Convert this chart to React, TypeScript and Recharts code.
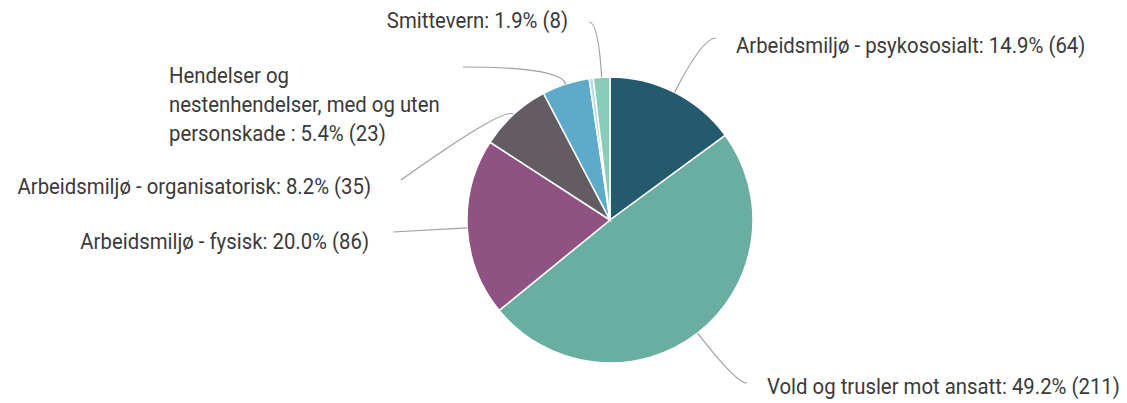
import { PieChart, Pie, Cell } from "recharts";

const categories = [
  "Arbeidsmiljø - psykososialt",
  "Vold og trusler mot ansatt",
  "Arbeidsmiljø - fysisk",
  "Arbeidsmiljø - organisatorisk",
  "Hendelser og nestenhendelser, med og uten personskade ",
  "",
  "Smittevern",
];
const counts = [64, 211, 86, 35, 23, 2, 8];
const colors = ["#245a6e", "#6aaea1", "#8f5282", "#635d63", "#5eaacb", "#b6dce9", "#8acbb9"];

// label placement relative to the pie centre (text x/y, anchor, connector end)
const labelLayout = [
  { tx: 126, ty: -175, anchor: "start", lx: 106, ly: -182 },
  { tx: 157, ty: 166, anchor: "start", lx: 137, ly: 163 },
  { tx: -241, ty: 21, anchor: "end", lx: -217, ly: 12 },
  { tx: -239, ty: -34, anchor: "end", lx: -209, ly: -40 },
  { tx: -441, ty: -145, anchor: "start", lx: -147, ly: -153, wrap: 28 },
  null,
  { tx: -42, ty: -200, anchor: "end", lx: -21, ly: -198 },
];

const data = categories.map((name, i) => ({ name, value: counts[i] }));

const RAD = Math.PI / 180;
const FONT = "Roboto, 'Noto Sans', sans-serif";

function wrapText(text: string, max: number) {
  const words = text.split(" ");
  const lines: string[] = [];
  let cur = "";
  for (const w of words) {
    const next = cur ? cur + " " + w : w;
    if (next.length > max && cur) {
      lines.push(cur);
      cur = w;
    } else cur = next;
  }
  if (cur) lines.push(cur);
  return lines;
}

function renderLabel(props: any) {
  const { cx, cy, midAngle, outerRadius, index, percent, value, name } = props;
  const lay = labelLayout[index];
  if (!lay) return null;
  const cos = Math.cos(-midAngle * RAD);
  const sin = Math.sin(-midAngle * RAD);
  const x0 = cx + outerRadius * cos;
  const y0 = cy + outerRadius * sin;
  const ex = cx + lay.lx;
  const ey = cy + lay.ly;
  // control point: follow the slice direction until reaching the end height
  let t = 12;
  if (sin !== 0) {
    const tt = (ey - y0) / sin;
    if (tt > 0 && tt < 70) t = tt;
  }
  const qx = x0 + t * cos;
  const qy = y0 + t * sin;
  const text = `${name}: ${(percent * 100).toFixed(1)}% (${value})`;
  const lines = lay.wrap ? wrapText(text, lay.wrap) : [text];
  return (
    <g>
      <path
        d={`M${x0},${y0} Q${qx},${qy} ${ex},${ey}`}
        stroke="#a0a0a0"
        strokeWidth={1.2}
        fill="none"
      />
      {lines.map((line, k) => (
        <text
          key={k}
          transform={`translate(${cx + lay.tx},${cy + lay.ty + k * 29}) scale(0.925,1)`}
          textAnchor={lay.anchor}
          dominantBaseline="central"
          fontFamily={FONT}
          fontSize={22}
          fill="#3a3a3a"
        >
          {line}
        </text>
      ))}
    </g>
  );
}

export default function App() {
  return (
    <div style={{ width: 1119, height: 395, background: "#fff" }}>
      <PieChart width={1119} height={395}>
        <Pie
          data={data}
          dataKey="value"
          nameKey="name"
          cx={597}
          cy={207}
          outerRadius={143}
          startAngle={90}
          endAngle={-270}
          stroke="#ffffff"
          strokeWidth={1.5}
          label={renderLabel}
          labelLine={false}
          isAnimationActive={false}
        >
          {data.map((d, i) => (
            <Cell key={d.name + i} fill={colors[i]} />
          ))}
        </Pie>
      </PieChart>
    </div>
  );
}
